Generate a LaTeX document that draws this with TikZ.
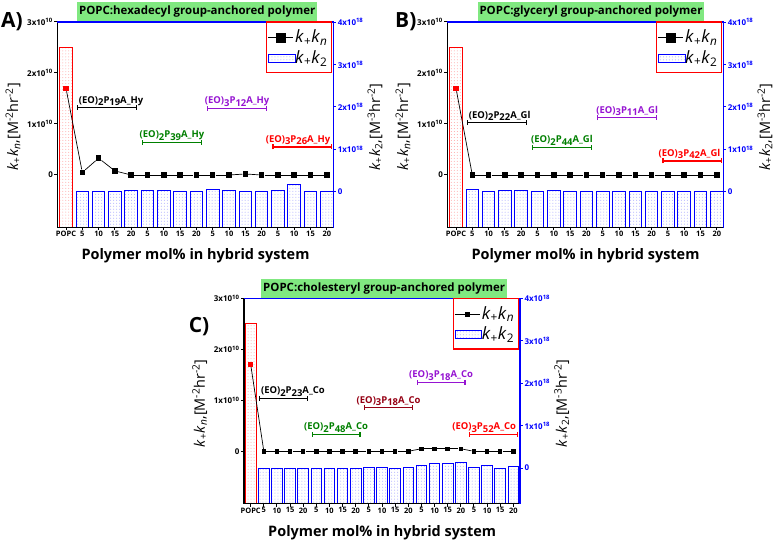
\documentclass[tikz,border=0pt]{standalone}
\usepackage{fontspec}
\setmainfont{Open Sans}
\usetikzlibrary{patterns,arrows.meta}

\definecolor{ttlgreen}{RGB}{128,232,128}
\definecolor{grpgreen}{RGB}{0,128,0}
\definecolor{grpviolet}{RGB}{150,20,210}
\definecolor{grpmaroon}{RGB}{150,0,20}
\definecolor{axblue}{RGB}{0,0,255}

\newcommand\dn[1]{\raisebox{-.45ex}{#1}}
\newcommand\kk[1]{\textit{k}\textsubscript{+}\textit{k}\textsubscript{#1}}

\tikzset{
  axline/.style={line width=1.4bp},
  tkline/.style={line width=1bp},
  tklab/.style={font=\bfseries\fontsize{8}{8}\selectfont, inner sep=1bp},
  catlab/.style={font=\bfseries\fontsize{7.5}{8}\selectfont, anchor=north, inner sep=0.5bp},
  ylab/.style={font=\fontsize{14.5}{15}\selectfont},
  xlab/.style={font=\bfseries\fontsize{14.5}{15}\selectfont},
  ttl/.style={fill=ttlgreen, font=\bfseries\fontsize{11.5}{12}\selectfont,
    minimum height=18.5bp, inner xsep=2bp},
  letter/.style={font=\bfseries\fontsize{21}{22}\selectfont, anchor=west, inner sep=0pt},
  kbar/.style={draw=axblue, line width=0.9bp, pattern=dots, pattern color=axblue!35},
  popcbar/.style={draw=red, line width=0.9bp, pattern=dots, pattern color=red!35},
  kmark/.style={rectangle, fill=black, minimum size=5.5bp, inner sep=0pt},
  kline/.style={line width=0.7bp},
  legmark/.style={minimum size=10bp},
  legline/.style={line width=1.2bp},
  legbox/.style={draw=red, line width=1.3bp},
  legtxt/.style={font=\fontsize{17}{18}\selectfont, anchor=west, inner sep=0pt},
  grpbar/.style={{Bar[width=5bp]}-{Bar[width=5bp]}, line width=1.1bp},
  grplab/.style={font=\bfseries\fontsize{9.5}{10}\selectfont, above, inner sep=1.5bp},
}

%% frame, ticks and axis titles of one panel (local coordinates)
\newcommand\panelframe{%
  \draw[axline] (57.3,22) -- (57.3,227.3) -- (333.3,227.3);
  \draw[axline, axblue] (57.3,22) -- (333.3,22) -- (333.3,227.3);
  \foreach \v in {0,1,2,3}
    \draw[tkline] (57.3,{175-51*\v}) -- ++(-3,0)
      node[tklab, left] (ly\v) {\ifnum\v=0 0\else\v x10\textsuperscript{10}\fi};
  \foreach \v in {0,...,4}
    \draw[tkline, axblue] (333.3,{191.7-42.4*\v}) -- ++(3,0)
      node[tklab, right] (ry\v) {\ifnum\v=0 0\else\v x10\textsuperscript{18}\fi};
  \draw[tkline] (\xo,227.3) -- ++(0,3) node[catlab] (c0) {POPC};
  \foreach \i in {1,...,\ncat}{
    \pgfmathtruncatemacro\cv{5*(mod(\i-1,4)+1)}
    \draw[tkline] ({\xo+\i*\dx},227.3) -- ++(0,3) node[catlab] (c\i) {\cv};
  }
  \node[ylab, rotate=90] (yl) at (13,127)
    {\kk{\textit{n}},[M\textsuperscript{-2}hr\textsuperscript{-2}]};
  \node[ylab, rotate=90] (yr) at (375,127)
    {\kk{2},[M\textsuperscript{-3}hr\textsuperscript{-2}]};
  \node[xlab] (xl) at (195.5,256) {Polymer mol\% in hybrid system};
}

%% bars, k+kn line, group brackets and legend of one panel
\newcommand\paneldata{%
  \draw[popcbar] ({\xo-\bw/2},227.3) rectangle ({\xo+\bw/2},47.5);
  \foreach \w [count=\i] in \ktwodata
    \draw[kbar] ({\xo+\i*\dx-\bw/2},227.3) rectangle ({\xo+\i*\dx+\bw/2},{191.7-42.4*\w});
  \panelframe
  \node[kmark, fill=red] (p0) at (\xo,{175-51*1.7}) {};
  \foreach \v [count=\i] in \kndata
    \node[kmark] (p\i) at ({\xo+\i*\dx},{175-51*\v}) {};
  \foreach \i [remember=\i as \j (initially 0)] in {1,...,\ncat}
    \draw[kline] (p\j) -- (p\i);
  \foreach \a/\b/\yy/\cc/\ps/\an/\lab in \grps {
    \coordinate (gl\a) at ({\xo+\a*\dx-\bo},\yy);
    \coordinate (gr\a) at ({\xo+\b*\dx+\bo},\yy);
    \draw[grpbar, color=\cc] (gl\a) -- node[grplab, pos=\ps, anchor=\an] (gt\a) {\lab} (gr\a);
  }
  %% legend
  \draw[legbox] (266.7,22) rectangle (331.7,72.7);
  \node[kmark, legmark] (lm) at (281,37.7) {};
  \draw[kline, legline] (268,37.7) -- (lm) -- (293,37.7);
  \node[legtxt] (lg1) at (295,37.7) {\kk{\textit{n}}};
  \draw[kbar] (268.3,54.3) rectangle (295,62.3);
  \node[legtxt] (lg2) at (295,58.3) {\kk{2}};
}

\begin{document}
\begin{tikzpicture}[x=1bp, y=-1bp]
  \useasboundingbox[fill=white] (0,0) rectangle (780,541);

  %% A) hexadecyl
  \begin{scope}[name prefix=A-]
    \def\ncat{16}\def\xo{66}\def\dx{16.3}\def\bw{12.6}\def\bo{5.5}
    \def\kndata{0.05,0.33,0.08,0, 0,0,0,0, 0,0,0.02,0, 0,0,0,0}
    \def\ktwodata{0,0,0,0.02, 0.02,0.02,0,0, 0.06,0.03,0.01,0.01, 0.03,0.16,0,0}
    \def\grps{1/4/107.7/black/0/south west/{(EO)\dn{2}P\dn{19}A\_Hy},
      5/8/142.3/grpgreen/0.5/south/{(EO)\dn{2}P\dn{39}A\_Hy},
      9/12/108.3/grpviolet/0.5/south/{(EO)\dn{3}P\dn{12}A\_Hy},
      13/16/147/red/1/south east/{(EO)\dn{3}P\dn{26}A\_Hy}}
    \paneldata
    \node[ttl] (ttl) at (197.2,11.3) {POPC:hexadecyl group-anchored polymer};
    \node[letter] (lbl) at (1,22) {A)};
  \end{scope}

  %% B) glyceryl
  \begin{scope}[shift={(390,0)}, name prefix=B-]
    \def\ncat{16}\def\xo{66}\def\dx{16.3}\def\bw{12.6}\def\bo{5.5}
    \def\kndata{0,0,0,0, 0,0,0,0, 0,0,0,0, 0,0,0,0}
    \def\ktwodata{0.06,0.01,0.03,0.03, 0.01,0.02,0.01,0.01, 0,0.01,0,0.01, 0.01,0,0,0}
    \def\grps{1/4/122.7/black/0/south west/{(EO)\dn{2}P\dn{22}A\_Gl},
      5/8/147.3/grpgreen/0.5/south/{(EO)\dn{2}P\dn{44}A\_Gl},
      9/12/117.7/grpviolet/0.5/south/{(EO)\dn{3}P\dn{11}A\_Gl},
      13/16/161/red/1/south east/{(EO)\dn{3}P\dn{42}A\_Gl}}
    \paneldata
    \node[ttl] (ttl) at (201,11.3) {POPC:glyceryl group-anchored polymer};
    \node[letter] (lbl) at (5,22) {B)};
  \end{scope}

  %% C) cholesteryl
  \begin{scope}[shift={(186.7,276.3)}, name prefix=C-,
      kmark/.append style={minimum size=4.5bp}, legmark/.append style={minimum size=5bp},
      legline/.append style={line width=0.8bp}]
    \def\ncat{20}\def\xo{64}\def\dx{13.13}\def\bw{10.6}\def\bo{4.8}
    \def\kndata{0,0,0,0, 0,0,0,0, 0,0,0,0, 0.05,0.05,0.05,0.05, 0,0,0,0}
    \def\ktwodata{0,0,0,0, 0,0,0,0, 0.01,0.01,0,0.01, 0.05,0.1,0.1,0.12, 0.01,0.05,0,0.03}
    \def\grps{1/4/122/black/0/south west/{(EO)\dn{2}P\dn{23}A\_Co},
      5/8/158/grpgreen/0.5/south/{(EO)\dn{2}P\dn{48}A\_Co},
      9/12/131.4/grpmaroon/0.5/south/{(EO)\dn{3}P\dn{18}A\_Co},
      13/16/106/grpviolet/0.5/south/{(EO)\dn{3}P\dn{18}A\_Co},
      17/20/158/red/1/south east/{(EO)\dn{3}P\dn{52}A\_Co}}
    \paneldata
    \node[ttl] (ttl) at (197.5,12) {POPC:cholesteryl group-anchored polymer};
    \node[letter] (lbl) at (2,50) {C)};
  \end{scope}
\end{tikzpicture}
\end{document}
